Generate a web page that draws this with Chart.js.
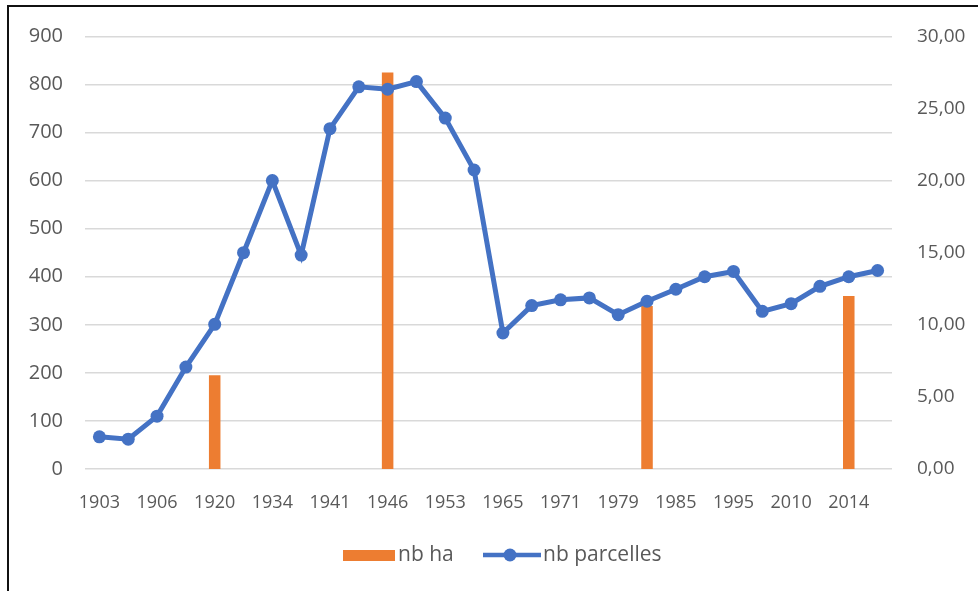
<!DOCTYPE html>
<html>
<head>
<meta charset="utf-8">
<script src="https://cdn.jsdelivr.net/npm/chart.js@4"></script>
<style>
  html, body { margin: 0; padding: 0; background: #fff; overflow: hidden; }
  #wrap { position: relative; width: 978px; height: 591px; overflow: hidden; }
  #chart { display: block; }
  #frame { position: absolute; left: 7px; top: 5px; right: -10px; bottom: -10px;
           border-left: 2px solid #111; border-top: 2px solid #111; pointer-events: none; }
</style>
</head>
<body>
<div id="wrap">
  <canvas id="chart" width="978" height="591"></canvas>
  <div id="frame"></div>
</div>
<script>
// categories (only every second one is labelled on the axis)
const years = ['1903', '1905', '1906', '1910', '1920', '1930', '1934', '1938', '1941', '1944',
               '1946', '1950', '1953', '1960', '1965', '1968', '1971', '1975', '1979', '1982',
               '1985', '1990', '1995', '2000', '2010', '2012', '2014', '2016'];

// nb ha (right axis)
const nbHa = [null, null, null, null, 6.5, null, null, null, null, null,
              27.5, null, null, null, null, null, null, null, null, 11.3,
              null, null, null, null, null, null, 12.0, null];

// nb parcelles (left axis)
const nbParcelles = [67, 62, 110, 212, 301, 450, 600, 445, 708, 795,
                     790, 806, 730, 622, 283, 340, 352, 356, 321, 349,
                     374, 400, 411, 328, 344, 380, 400, 413];

const leftTicks = { min: 0, max: 900, step: 100 };
const rightTicks = { min: 0, max: 30, step: 5 };

const textColor = '#595959';
const fontFamily = '"Open Sans", "Noto Sans", sans-serif';

// legend drawn by hand to match the Excel look
const legendPlugin = {
    id: 'excelLegend',
    afterDraw: function(chart) {
        const ctx = chart.ctx;
        const y = 555;
        const bar = chart.data.datasets[1];
        const line = chart.data.datasets[0];

        ctx.save();
        ctx.font = '21px ' + fontFamily;
        ctx.textBaseline = 'middle';

        // nb ha
        ctx.fillStyle = bar.backgroundColor;
        ctx.fillRect(343, y - 5, 52, 11);
        ctx.fillStyle = textColor;
        ctx.fillText(bar.label, 398, y);

        // nb parcelles
        ctx.strokeStyle = line.borderColor;
        ctx.lineWidth = 4.5;
        ctx.beginPath();
        ctx.moveTo(483, y);
        ctx.lineTo(541, y);
        ctx.stroke();
        ctx.fillStyle = line.borderColor;
        ctx.beginPath();
        ctx.arc(510, y, 6.5, 0, Math.PI * 2);
        ctx.fill();
        ctx.fillStyle = textColor;
        ctx.fillText(line.label, 543, y);
        ctx.restore();
    }
};

new Chart(document.getElementById('chart'), {
    type: 'bar',
    data: {
        labels: years,
        datasets: [
            {
                type: 'line',
                label: 'nb parcelles',
                data: nbParcelles,
                yAxisID: 'y',
                borderColor: '#4472C4',
                backgroundColor: '#4472C4',
                borderWidth: 5,
                pointRadius: 6.5,
                pointBorderWidth: 0,
                pointBackgroundColor: '#4472C4',
                tension: 0,
                order: 0
            },
            {
                type: 'bar',
                label: 'nb ha',
                data: nbHa,
                yAxisID: 'y1',
                backgroundColor: '#ED7D31',
                barPercentage: 0.4,
                categoryPercentage: 1,
                order: 1
            }
        ]
    },
    options: {
        responsive: false,
        animation: false,
        devicePixelRatio: 1,
        layout: { padding: { left: 25, right: 8, top: 35, bottom: 82 } },
        plugins: {
            legend: { display: false },
            tooltip: { enabled: false }
        },
        scales: {
            x: {
                offset: true,
                grid: { display: false, drawTicks: false },
                border: { display: false },
                ticks: {
                    autoSkip: false,
                    maxRotation: 0,
                    padding: 23,
                    color: textColor,
                    font: { family: fontFamily, size: 18 },
                    callback: function(value, index) {
                        return index % 2 === 0 ? this.getLabelForValue(value) : '';
                    }
                },
                afterFit: function(scale) { scale.height = 40; }
            },
            y: {
                position: 'left',
                min: leftTicks.min,
                max: leftTicks.max,
                grid: { color: '#d9d9d9', lineWidth: 1.5, drawTicks: false },
                border: { display: false },
                ticks: {
                    stepSize: leftTicks.step,
                    padding: 22,
                    color: textColor,
                    font: { family: fontFamily, size: 20 }
                },
                afterFit: function(scale) { scale.width = 60; }
            },
            y1: {
                position: 'right',
                min: rightTicks.min,
                max: rightTicks.max,
                grid: { display: false, drawTicks: false },
                border: { display: false },
                ticks: {
                    stepSize: rightTicks.step,
                    padding: 25,
                    color: textColor,
                    font: { family: fontFamily, size: 19 },
                    callback: function(v) { return v.toFixed(2).replace('.', ','); }
                },
                afterFit: function(scale) { scale.width = 78; }
            }
        }
    },
    plugins: [legendPlugin]
});
</script>
</body>
</html>
